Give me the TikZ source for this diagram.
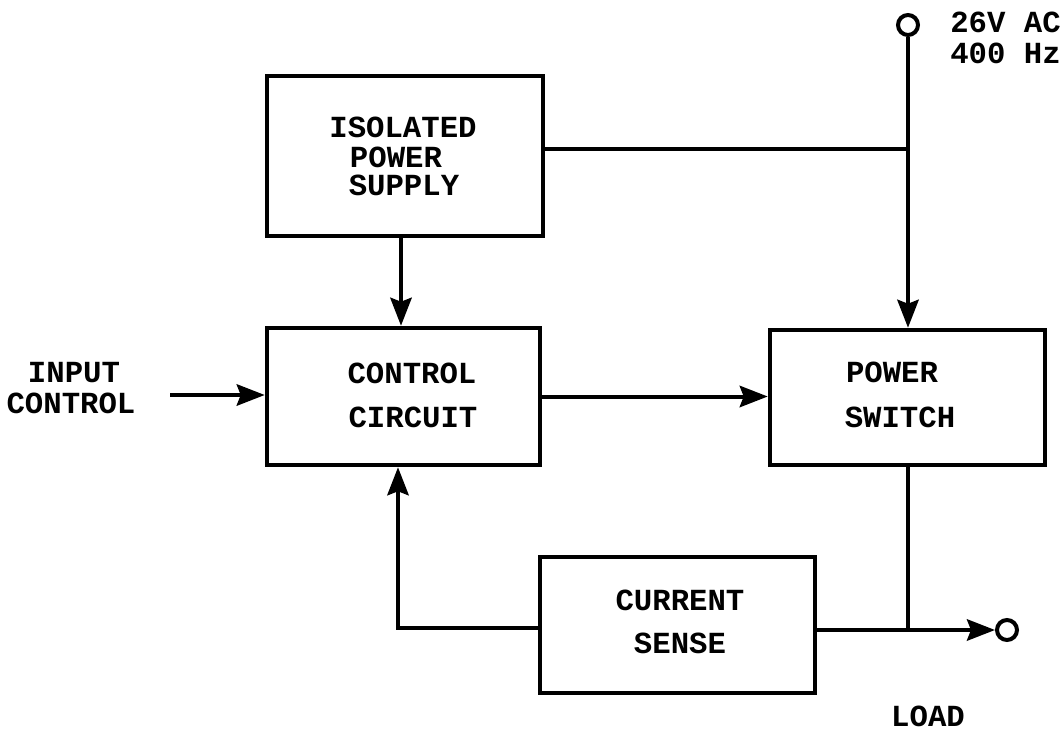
\documentclass[tikz,border=0pt]{standalone}
\usepackage{fontspec}
\newfontfamily\cour{Liberation Mono}
\usetikzlibrary{arrows.meta}
\begin{document}
\begin{tikzpicture}[x=0.75pt,y=-0.75pt,
  blk/.style={draw,line width=3.4pt,minimum width=#1},
  txt/.style={inner sep=0pt,font=\cour\bfseries\fontsize{23}{29}\selectfont},
  wire/.style={line width=3pt},
  arr/.style={wire,-{Stealth[length=21pt,width=16pt,inset=3pt]}},
  term/.style={circle,draw,line width=3pt,minimum size=15pt,inner sep=0pt}]
\useasboundingbox (0,0) rectangle (1061,732);
% blocks
\node[blk=276*0.75pt,minimum height=160*0.75pt] (iso) at (405,156) {};
\node[blk=273*0.75pt,minimum height=137*0.75pt] (ctrl) at (403.5,396.5) {};
\node[blk=275*0.75pt,minimum height=135*0.75pt] (psw) at (907.5,397.5) {};
\node[blk=275*0.75pt,minimum height=136*0.75pt] (cs) at (677.5,625) {};
% labels
\node[txt] (iso1) at (403,127) {ISOLATED};
\node[txt] (iso2) at (396,157) {POWER};
\node[txt] (iso3) at (404,185) {SUPPLY};
\node[txt] (ctrl1) at (412,373) {CONTROL};
\node[txt] (ctrl2) at (413,417) {CIRCUIT};
\node[txt] (psw1) at (892,372) {POWER};
\node[txt] (psw2) at (900,417) {SWITCH};
\node[txt] (cs1) at (680,600) {CURRENT};
\node[txt] (cs2) at (680,643) {SENSE};
\node[txt] (in1) at (74,373) {INPUT};
\node[txt] (in2) at (71,403) {CONTROL};
\node[txt,anchor=west] (ac1) at (950,22) {26V AC};
\node[txt,anchor=west] (ac2) at (950,53) {400 Hz};
\node[txt] (load) at (928,716) {LOAD};
% terminals
\node[term] (t1) at (908,25) {};
\node[term] (t2) at (1007,630) {};
\coordinate (j1) at (908,149);
\coordinate (j2) at (908,630);
\coordinate (inp) at (170,395);
\coordinate (fb) at (398,628);
% connectors
\draw[arr] (t1.south) -- (t1.south |- psw.north);
\draw[wire] ([yshift=5.25pt]iso.east) -- (j1);
\draw[arr] (iso.south -| 401,0) -- (ctrl.north -| 401,0);
\draw[arr] (inp) -- (ctrl.west |- inp);
\draw[arr] (ctrl.east) -- (psw.west |- ctrl.east);
\draw[wire] (psw.south -| j2) -- (j2);
\draw[wire] (cs.east |- j2) -- (j2);
\draw[arr] (j2) -- (t2.west);
\draw[arr] (cs.west |- fb) -- (fb) -- (ctrl.south -| fb);
\end{tikzpicture}
\end{document}
